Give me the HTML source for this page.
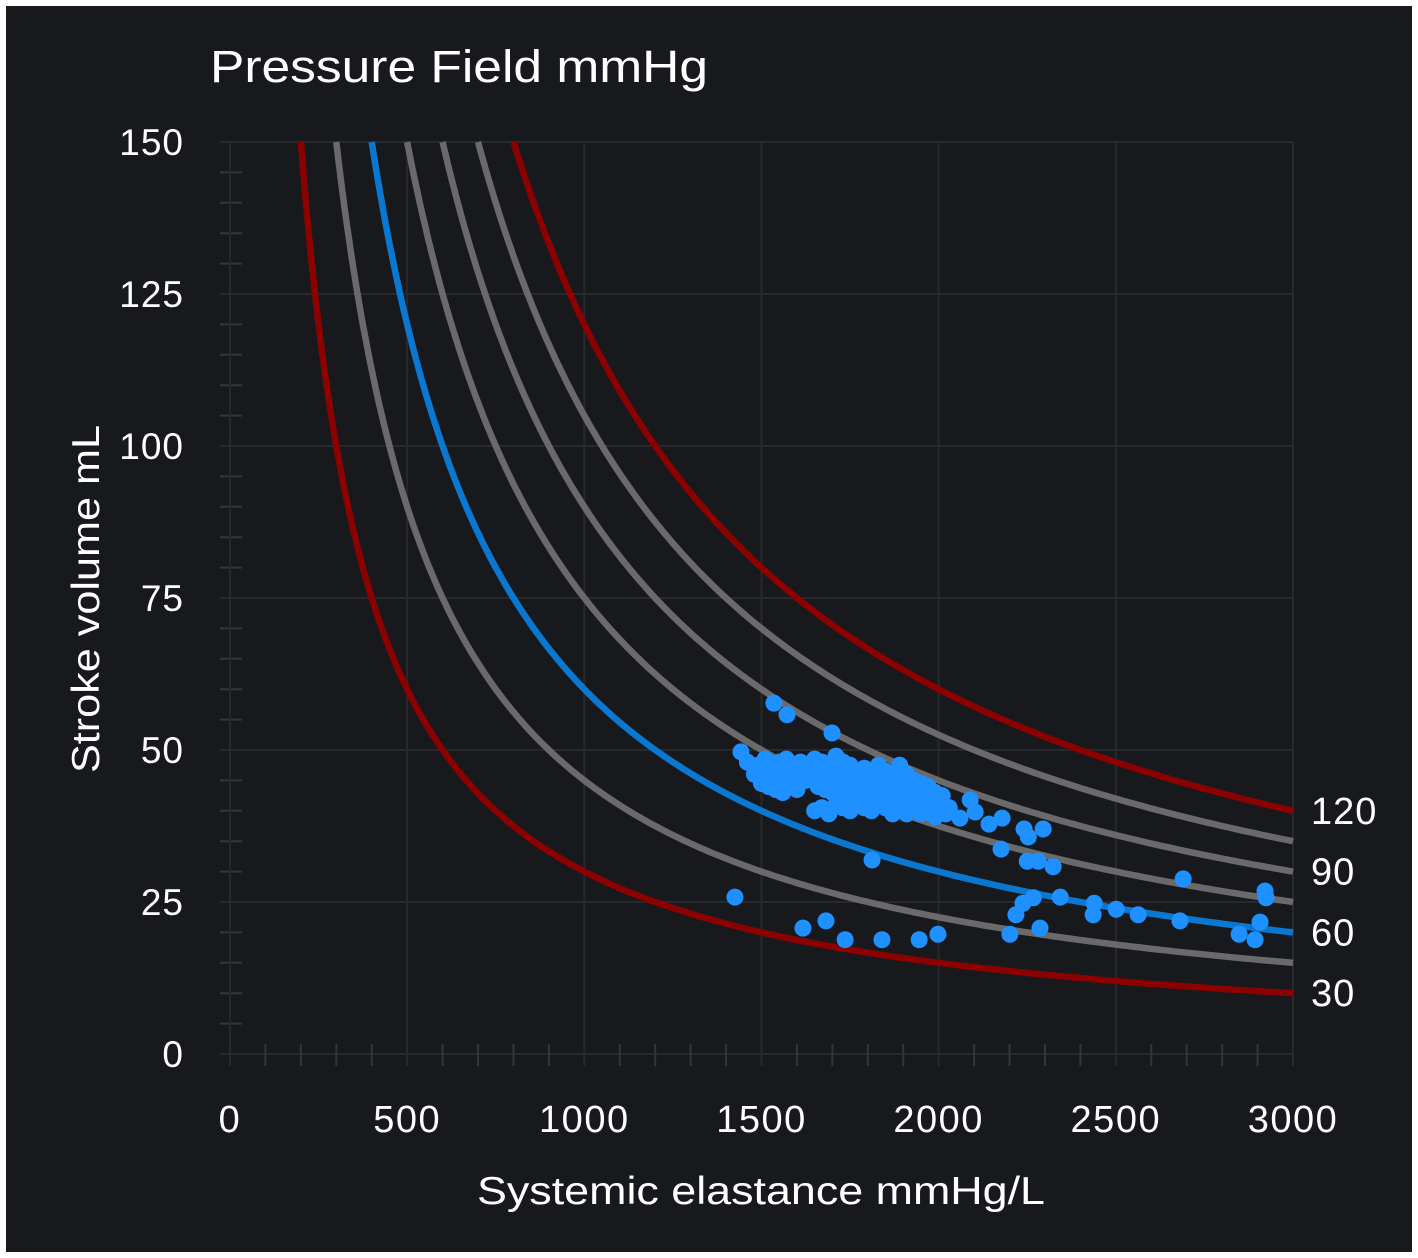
<!DOCTYPE html>
<html><head><meta charset="utf-8">
<style>
html,body{margin:0;padding:0;background:#fff;}
#wrap{position:absolute;left:6px;top:6px;width:1406px;height:1246px;background:#18191c;}
svg{position:absolute;left:0;top:0;}
text{font-family:"Liberation Sans",sans-serif;fill:#fff;}
</style></head>
<body>
<div id="wrap"></div>
<svg id="chart" width="1418" height="1258">
<text x="210" y="82" font-size="45" textLength="498" lengthAdjust="spacingAndGlyphs">Pressure Field mmHg</text>
<text x="477" y="1204" font-size="39" textLength="568" lengthAdjust="spacingAndGlyphs">Systemic elastance mmHg/L</text>
<text transform="translate(99,773) rotate(-90)" font-size="39" textLength="348" lengthAdjust="spacingAndGlyphs">Stroke volume mL</text>
<g id="grid"></g><g id="curves"></g><g id="pts"></g><g id="labels"></g>
</svg>
<script>
const xTicks=[0,500,1000,1500,2000,2500,3000];
const yTicks=[0,25,50,75,100,125,150];
const pressures=[30,45,60,75,90,105,120];
const pressureColors=["#8b0000","#6a6a6a","#0a78d0","#6a6a6a","#6a6a6a","#6a6a6a","#8b0000"];
const labeledPressures=[120,90,60,30];
const outE=[1535,1572,1699,1442,1425,1812,1617,1682,1736,1840,1945,1998,2176,2241,2253,2295,2250,2281,2323,2218,2201,2286,2238,2267,2343,2439,2436,2501,2563,2690,2681,2848,2893,2907,2921,2924,2179,2142,2103,2060,2089];
const outSV=[57.7,55.8,52.8,49.7,25.8,31.9,20.7,21.9,18.8,18.8,18.8,19.7,33.7,37,35.7,37,31.7,31.7,30.8,22.9,19.7,20.7,24.8,25.7,25.8,24.8,22.9,23.8,22.9,28.8,21.9,19.7,18.8,21.7,26.8,25.7,38.8,37.8,39.8,38.8,41.8];
const cluE=[1460,1490,1510,1530,1550,1570,1590,1610,1630,1650,1670,1690,1710,1730,1750,1770,1790,1810,1830,1850,1870,1890,1910,1930,1950,1970,1990,2010,
1480,1500,1520,1545,1565,1585,1605,1625,1645,1665,1685,1705,1725,1745,1765,1785,1805,1825,1845,1865,1885,1905,1925,1945,1965,1985,2005,2030,
1500,1520,1540,1560,1580,1600,1660,1680,1700,1720,1740,1760,1780,1800,1820,1840,1860,1880,1900,1920,1940,1960,1980,2000,2020,
1650,1670,1690,1710,1730,1750,1770,1790,1810,1830,1850,1870,1890,1910,1930,1950,1970,1990,
1720,1760,1800,1840,1880,1920,1960,1780,1820,1860,1900,1940,
1540,1560,1580,1620,1640,1700,1740,1780,1820,1860,1900,1940,1980,1750,1790,1830,1870,1910,1950];
const cluSV=[48,47.5,48.5,47,48,48.5,47.5,48,47,48.5,48,47.5,49,48,47.5,46.5,47,46,47.5,46.5,45.5,47.5,46,45,44.5,44,43,42.5,
46,46.5,45.5,45,46,45.5,46,45,46.5,46,45.5,46,45.5,45,44.5,45,44,44.5,44,43.5,44.5,43.5,42.5,43,42,41.5,41,40.5,
44.5,44,43.5,43,44,43.5,44,43.5,43,43.5,42.5,43,42.5,42,43,42,41.5,42,41,41.5,40.5,41,40,40.5,39.5,
40,40.5,39.5,41,40.5,40,41,40.5,40,41,40.5,39.5,40,39.5,40.5,39.5,40,39,
44,43,44.5,43.5,43,44,42.5,41.5,41,42.5,44,43,
46.5,44.5,46.5,47,47,46.5,45.5,45.5,45,44.5,44,42.5,41.5,42,42,41.5,41.5,41,42];

const X0=230,X1=1293,Y0=1054,Y1=142;
const xs=v=>X0+(v/3000)*(X1-X0);
const ys=v=>Y0-(v/150)*(Y0-Y1);
const NS="http://www.w3.org/2000/svg";
function mk(tag,attrs,parent){const e=document.createElementNS(NS,tag);for(const k in attrs)e.setAttribute(k,attrs[k]);parent.appendChild(e);return e;}
const grid=document.getElementById('grid');
const gc="#28292d";
yTicks.forEach(t=>{
 const l=mk('line',{x1:220,x2:X1,y1:ys(t),y2:ys(t),stroke:gc,'stroke-width':2},grid);
 
 
 const tx=mk('text',{x:184,y:ys(t)+13,'font-size':37,'text-anchor':'end','letter-spacing':1},grid);tx.textContent=t;
 
 
});
for(let v=5;v<150;v+=5){if(v%25)mk('line',{x1:220,x2:242,y1:ys(v),y2:ys(v),stroke:"#333539",'stroke-width':2},grid);}
xTicks.forEach(t=>{
 const l=mk('line',{x1:xs(t),x2:xs(t),y1:Y1,y2:1066,stroke:gc,'stroke-width':2},grid);
 
 
 const tx=mk('text',{x:xs(t),y:1132,'font-size':38,'text-anchor':'middle','letter-spacing':1.5},grid);tx.textContent=t;
 
 
});
for(let v=100;v<3000;v+=100){if(v%500)mk('line',{x1:xs(v),x2:xs(v),y1:1044,y2:1066,stroke:"#333539",'stroke-width':2},grid);}
const curves=document.getElementById('curves');
pressures.forEach((p,i)=>{
 let d='';const eMin=p*1000/150;
 for(let k=0;k<=300;k++){const e=eMin+(3000-eMin)*Math.pow(k/300,1.6);const sv=p*1000/e;d+=(k?'L':'M')+xs(e).toFixed(1)+','+ys(sv).toFixed(1);}
 const c=mk('path',{d:d,fill:'none',stroke:pressureColors[i],'stroke-width':6.5},curves);
 
 
});
const labels=document.getElementById('labels');
labeledPressures.forEach(p=>{
 const t=mk('text',{x:1311,y:ys(p*1000/3000)+13,'font-size':38,'letter-spacing':1},labels);t.textContent=p;
 
 
});
const pts=document.getElementById('pts');
function dot(e,s){const c=mk('circle',{cx:xs(e),cy:ys(s),r:8.5,fill:'#1e90ff'},pts);
 
 }
cluE.forEach((e,i)=>dot(e,cluSV[i]));
outE.forEach((e,i)=>dot(e,outSV[i]));
</script>
</body></html>
